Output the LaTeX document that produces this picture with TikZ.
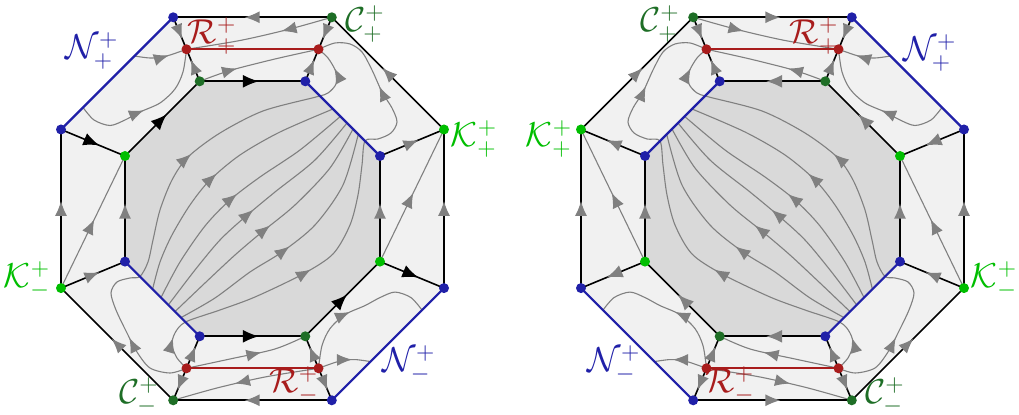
\documentclass[tikz,border=0pt]{standalone}
\usetikzlibrary{arrows.meta,decorations.markings}
\definecolor{nblue}{RGB}{32,32,168}
\definecolor{rred}{RGB}{168,28,28}
\definecolor{dgreen}{RGB}{30,110,38}
\definecolor{lgreen}{RGB}{0,190,0}
\definecolor{flowgray}{RGB}{128,128,128}
\definecolor{bandgray}{RGB}{241,241,241}
\definecolor{coregray}{RGB}{217,217,217}
\colorlet{maincol}{black}
\tikzset{
  edgeline/.style={draw=black, line width=0.8pt},
  blueline/.style={draw=nblue, line width=1.1pt},
  redline/.style={draw=rred, line width=1.1pt},
  flowline/.style={draw=flowgray, line width=0.55pt},
  ga/.style={postaction={decorate, decoration={markings, mark=at position #1 with {\arrow{Latex[length=7.5pt,width=6pt,color=flowgray]}}}}},
  ma/.style={postaction={decorate, decoration={markings, mark=at position #1 with {\arrow{Latex[length=8pt,width=6.5pt,color=maincol]}}}}},
  vdot/.style={circle, inner sep=0pt, minimum size=5pt, fill=#1},
  lab/.style={text=#1, font=\fontsize{16.5}{20}\selectfont, inner sep=0pt},
}
\newcommand\octagon[1]{%
  \coordinate (#1O1) at (173.2,17.3);
  \coordinate (#1O2) at (331.8,17.3);
  \coordinate (#1O3) at (444,129.5);
  \coordinate (#1O4) at (444,288.1);
  \coordinate (#1O5) at (331.8,400.3);
  \coordinate (#1O6) at (173.2,400.3);
  \coordinate (#1O7) at (61,288.1);
  \coordinate (#1O8) at (61,129.5);
  \coordinate (#1I1) at (199.7,81.3);
  \coordinate (#1I2) at (305.3,81.3);
  \coordinate (#1I3) at (380,156);
  \coordinate (#1I4) at (380,261.6);
  \coordinate (#1I5) at (305.3,336.3);
  \coordinate (#1I6) at (199.7,336.3);
  \coordinate (#1I7) at (125,261.6);
  \coordinate (#1I8) at (125,156);
  \coordinate (#1R1) at (186.5,49.3);
  \coordinate (#1R2) at (318.5,49.3);
  \coordinate (#1R3) at (186.5,368.3);
  \coordinate (#1R4) at (318.5,368.3);
  % fills
  \fill[bandgray] (#1O1) -- (#1O2) -- (#1O3) -- (#1O4) -- (#1O5) -- (#1O6) -- (#1O7) -- (#1O8) -- cycle;
  \fill[coregray] (#1I1) -- (#1I2) -- (#1I3) -- (#1I4) -- (#1I5) -- (#1I6) -- (#1I7) -- (#1I8) -- cycle;
  % flow lines, outer band
  \draw[flowline, ga=0.35] plot[smooth] coordinates {(#1O2) (288,29.5) (240,40.5) (#1R1)};
  \draw[flowline, ga=0.32] plot[smooth] coordinates {(#1I1) (230,70.5) (275,59) (#1R2)};
  \draw[flowline, ga=0.65] plot[smooth] coordinates {(134.5,56) (150,58) (165,56.5) (#1R1)};
  \draw[flowline, ga=0.47] plot[smooth] coordinates {(83,107.5) (94,120) (110,125.5) (125,120) (140,112) (160,103) (175,89) (183,72) (#1R1)};
  \draw[flowline, ga=0.57] plot[smooth] coordinates {(#1R4) (265,377) (217,388) (#1O6)};
  \draw[flowline, ga=0.62] plot[smooth] coordinates {(#1R3) (230,359) (275,349) (#1I5)};
  \draw[flowline, ga=0.65] plot[smooth] coordinates {(#1R4) (340,361) (355,359.6) (370.5,361.6)};
  \draw[flowline, ga=0.45] plot[smooth] coordinates {(#1R4) (322,345.6) (330,328.6) (345,314.6) (365,305.6) (380,297.6) (395,292.1) (411,297.6) (422,310.1)};
  \draw[flowline, ga=0.52] (#1O7) -- (#1I8);
  \draw[flowline, ga=0.52] (#1I4) -- (#1O3);
  % flow lines crossing the core
  \draw[flowline, ga=0.07, ga=0.38, ga=0.83] plot[smooth] coordinates {(#1R3) (177,358) (172,345) (175,333) (185.5,322) (220,310) (255,297) (303,274) (333,254) (350,225) (358,195) (362,165) (365,141) (378,139) (391,133) (397,122) (392,108) (382,92) (372,70) (362,52) (350,44) (335,43) (#1R2)};
  \draw[flowline, ga=0.15, ga=0.59, ga=0.95] plot[smooth] coordinates {(#1R3) (170,373) (150,368) (137,352) (127,333) (116,310) (111,293) (117,282) (130,278) (140,276.5) (148,262) (153,240) (160,210) (172,180) (188,157) (220,133) (263,111) (316,97) (328,93) (336,84) (336,72) (328,58) (#1R2)};
  \draw[flowline, ga=0.5] plot[smooth] coordinates {(152.6,289.2) (160,262) (172,235) (190,205) (210,180) (240,155) (280,132) (333,109)};
  \draw[flowline, ga=0.5] plot[smooth] coordinates {(161,297.5) (180,262) (205,226) (230,200) (260,177) (300,150) (340.4,116.4)};
  \draw[flowline, ga=0.5] plot[smooth] coordinates {(168.3,305) (195,270) (220,240) (245,217) (275,192) (315,160) (347,123)};
  \draw[flowline, ga=0.5] plot[smooth] coordinates {(175,311.6) (205,283) (235,255) (262,232) (295,205) (330,168) (353,129)};
  \draw[flowline, ga=0.49] plot[smooth] coordinates {(181,317.6) (215,298) (250,272) (282,252) (315,225) (343,185) (358.3,134.3)};
  % edges
  \draw[edgeline, ga=0.55] (#1O2) -- (#1O1);
  \draw[edgeline, ga=0.55] (#1O3) -- (#1O2);
  \draw[edgeline, ga=0.55] (#1O4) -- (#1O3);
  \draw[edgeline, ga=0.55] (#1O5) -- (#1O6);
  \draw[edgeline, ga=0.55] (#1O6) -- (#1O7);
  \draw[edgeline, ga=0.55] (#1O7) -- (#1O8);
  \draw[edgeline, ma=0.56] (#1I1) -- (#1I2);
  \draw[edgeline, ga=0.55] (#1I4) -- (#1I3);
  \draw[edgeline, ma=0.56] (#1I5) -- (#1I4);
  \draw[edgeline, ma=0.56] (#1I6) -- (#1I5);
  \draw[edgeline, ga=0.55] (#1I7) -- (#1I8);
  \draw[edgeline, ma=0.56] (#1I8) -- (#1I1);
  \draw[edgeline, ma=0.6] (#1O8) -- (#1I8);
  \draw[edgeline, ga=0.6] (#1I3) -- (#1O3);
  \draw[edgeline, ga=0.6] (#1O7) -- (#1I7);
  \draw[edgeline, ma=0.6] (#1I4) -- (#1O4);
  \draw[edgeline, ga=0.68] (#1O1) -- (#1R1);
  \draw[edgeline, ga=0.68] (#1I1) -- (#1R1);
  \draw[edgeline, ga=0.68] (#1O2) -- (#1R2);
  \draw[edgeline, ga=0.68] (#1I2) -- (#1R2);
  \draw[edgeline, ga=0.68] (#1R3) -- (#1O6);
  \draw[edgeline, ga=0.68] (#1R3) -- (#1I6);
  \draw[edgeline, ga=0.68] (#1R4) -- (#1O5);
  \draw[edgeline, ga=0.68] (#1R4) -- (#1I5);
  \draw[blueline] (#1O8) -- (#1O1);
  \draw[blueline] (#1O4) -- (#1O5);
  \draw[blueline] (#1I2) -- (#1I3);
  \draw[blueline] (#1I6) -- (#1I7);
  \draw[redline] (#1R1) -- (#1R2);
  \draw[redline] (#1R3) -- (#1R4);
  % vertices
  \node[vdot=nblue] (#1d1) at (#1O1) {};
  \node[vdot=dgreen] (#1d2) at (#1O2) {};
  \node[vdot=lgreen] (#1d3) at (#1O3) {};
  \node[vdot=nblue] (#1d4) at (#1O4) {};
  \node[vdot=nblue] (#1d5) at (#1O5) {};
  \node[vdot=dgreen] (#1d6) at (#1O6) {};
  \node[vdot=lgreen] (#1d7) at (#1O7) {};
  \node[vdot=nblue] (#1d8) at (#1O8) {};
  \node[vdot=dgreen] (#1e1) at (#1I1) {};
  \node[vdot=nblue] (#1e2) at (#1I2) {};
  \node[vdot=nblue] (#1e3) at (#1I3) {};
  \node[vdot=lgreen] (#1e4) at (#1I4) {};
  \node[vdot=dgreen] (#1e5) at (#1I5) {};
  \node[vdot=nblue] (#1e6) at (#1I6) {};
  \node[vdot=nblue] (#1e7) at (#1I7) {};
  \node[vdot=lgreen] (#1e8) at (#1I8) {};
  \node[vdot=rred] (#1r1) at (#1R1) {};
  \node[vdot=rred] (#1r2) at (#1R2) {};
  \node[vdot=rred] (#1r3) at (#1R3) {};
  \node[vdot=rred] (#1r4) at (#1R4) {};
}
\begin{document}
\begin{tikzpicture}[x=0.5pt, y=-0.5pt]
\useasboundingbox (0,0) rectangle (1019,415);
\begin{scope}
  \colorlet{maincol}{black}
  \octagon{l-}
\end{scope}
\begin{scope}[xshift=512.5pt, xscale=-1]
  \colorlet{maincol}{flowgray}
  \octagon{r-}
\end{scope}
% labels, left
\node[lab=nblue] (lNp) at (92,51) {$\mathcal{N}^{+}_{+}$};
\node[lab=rred] (lRp) at (212,36) {$\mathcal{R}^{+}_{+}$};
\node[lab=dgreen] (lCp) at (365,24) {$\mathcal{C}^{+}_{+}$};
\node[lab=lgreen] (lKp) at (474,139) {$\mathcal{K}^{+}_{+}$};
\node[lab=lgreen] (lKm) at (27,280) {$\mathcal{K}^{+}_{-}$};
\node[lab=dgreen] (lCm) at (139,396) {$\mathcal{C}^{+}_{-}$};
\node[lab=rred] (lRm) at (294,385) {$\mathcal{R}^{+}_{-}$};
\node[lab=nblue] (lNm) at (409,364) {$\mathcal{N}^{+}_{-}$};
% labels, right
\node[lab=dgreen] (rCp) at (660,24) {$\mathcal{C}^{+}_{+}$};
\node[lab=rred] (rRp) at (814,36) {$\mathcal{R}^{+}_{+}$};
\node[lab=nblue] (rNp) at (930,53) {$\mathcal{N}^{+}_{+}$};
\node[lab=lgreen] (rKp) at (549,139) {$\mathcal{K}^{+}_{+}$};
\node[lab=lgreen] (rKm) at (994,280) {$\mathcal{K}^{+}_{-}$};
\node[lab=nblue] (rNm) at (614,364) {$\mathcal{N}^{+}_{-}$};
\node[lab=rred] (rRm) at (730,385) {$\mathcal{R}^{+}_{-}$};
\node[lab=dgreen] (rCm) at (885,396) {$\mathcal{C}^{+}_{-}$};
\end{tikzpicture}
\end{document}
